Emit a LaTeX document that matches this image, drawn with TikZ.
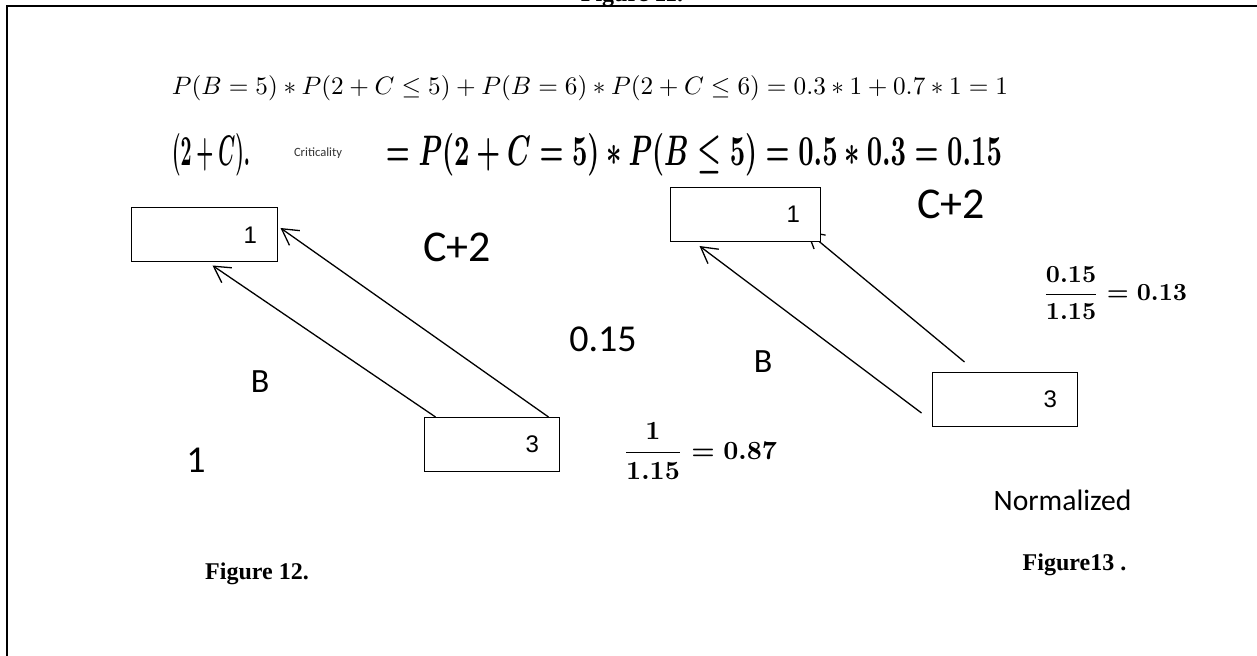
\documentclass[tikz,border=0pt]{standalone}
\usepackage{amsmath}
\usepackage{amssymb}
\usepackage{fontspec}
\setmainfont{Carlito}
\newfontfamily\legfont{Liberation Serif}
\newfontfamily\boxfont{Liberation Sans}
\usetikzlibrary{
  arrows.meta,
  calc,
  backgrounds
}

\begin{document}
\begin{tikzpicture}[
    x=0.5pt, y=-0.5pt,
    bloco/.style={draw=black, fill=white, line width=0.5pt, minimum height=27pt, inner xsep=10pt, align=right, font=\boxfont\fontsize{12}{14}\selectfont},
    seta/.style={-{Straight Barb[length=8pt, width=9pt]}, line width=0.65pt},
    rotulo/.style={font=\fontsize{19}{22}\selectfont},
    rotuloc/.style={font=\fontsize{22}{25}\selectfont},
    rotulob/.style={font=\fontsize{17}{20}\selectfont},
    legenda/.style={font=\legfont\bfseries\fontsize{12}{14}\selectfont, anchor=base}
  ]
    \useasboundingbox (0,0) rectangle (1257,656);

    % Moldura e titulo cortado
    \node[legenda] (fig11) at (632,2) {Figure 11.};
    \draw[line width=1pt] (7,656) -- (7,6.5) -- (1257,6.5);

    % Equacoes
    \node (eq1) at (590,88) {\resizebox{418pt}{!}{$P(B=5)*P(2+C\leq5)+P(B=6)*P(2+C\leq6)=0.3*1+0.7*1=1$}};
    \node (eq2a) at (211,155) {\resizebox{39pt}{16pt}{\boldmath$(2+C).$}};
    \node[font=\fontsize{6.3}{7}\selectfont, text=black!80] (crit) at (318,153) {Criticality};
    \node (eq2b) at (694,155) {\resizebox{308pt}{16pt}{\boldmath$=P(2+C=5)*P(B\leq5)=0.5*0.3=0.15$}};

    % Figura 12
    \node[bloco, text width=53pt] (a1) at (204,235) {1};
    \node[bloco, text width=47.5pt] (a3) at (491.5,444.5) {3};
    \draw[seta] ($(a3.north west)+(12,0)$) -- ($(a1.south west)+(82,3)$);
    \draw[seta] ($(a3.north east)+(-11,0)$) -- ($(a1.east)+(3,-7)$);
    \node[rotuloc] (c2a) at (457,247) {C+2};
    \node[rotulo] (v015) at (603,339) {0.15};
    \node[rotulob] (ba) at (260,382) {B};
    \node[rotulo] (um) at (196,460) {1};
    \node (fr1) at (700,451) {\resizebox{77pt}{!}{\boldmath$\dfrac{1}{1.15}=0.87$}};
    \node[legenda] (fig12) at (257,580) {Figure 12.};

    % Figura 13
    \node[bloco, text width=55pt] (b1) at (745,214.5) {1};
    \node[bloco, text width=52.5pt] (b3) at (1004.5,399.5) {3};
    \begin{scope}[on background layer]
      \draw[seta] ($(b3.west)+(-10,13.5)$) -- ($(b1.south west)+(30,4)$);
      \draw[seta] ($(b3.north west)+(33,-10)$) -- ($(b1.south east)+(-14,-11)$);
    \end{scope}
    \node[rotuloc] (c2b) at (951,204) {C+2};
    \node[rotulob] (bb) at (763,362) {B};
    \node (fr2) at (1115,293) {\resizebox{72pt}{!}{\boldmath$\dfrac{0.15}{1.15}=0.13$}};
    \node[font=\fontsize{14.8}{17}\selectfont] (norm) at (1062.5,500) {Normalized};
    \node[legenda] (fig13) at (1074.5,571) {Figure13 .};
\end{tikzpicture}
\end{document}
